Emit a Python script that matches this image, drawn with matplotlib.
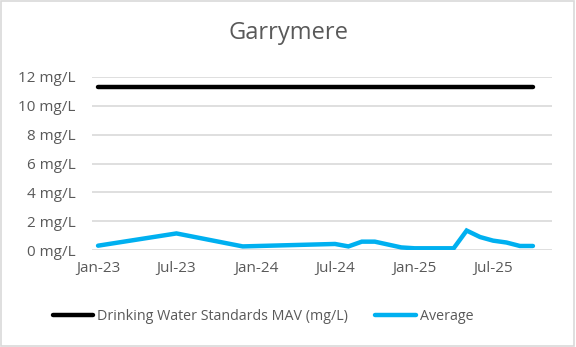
import matplotlib
matplotlib.use("Agg")
import matplotlib.pyplot as plt
import matplotlib.dates as mdates
from matplotlib.patches import Rectangle
import pandas as pd

plt.rcParams['font.family'] = ['Open Sans', 'DejaVu Sans']

# monthly sample averages (mg/L)
dates = ['2023-01-01', '2023-07-01', '2023-12-01', '2024-07-01', '2024-08-01',
         '2024-09-01', '2024-10-01', '2024-12-01', '2025-01-01', '2025-04-01',
         '2025-05-01', '2025-06-01', '2025-07-01', '2025-08-01', '2025-09-01',
         '2025-10-01']
average = [0.30, 1.15, 0.25, 0.42, 0.25, 0.58, 0.58, 0.18, 0.12, 0.12,
           1.35, 0.90, 0.65, 0.52, 0.28, 0.28]
mav = 11.3
mav_label = 'Drinking Water Standards MAV (mg/L)'

dates = pd.to_datetime(dates)
grey = '#595959'

fig = plt.figure(figsize=(5.76, 3.47), dpi=100)
ax = fig.add_axes([0.1597, 0.2795, 0.7986, 0.4986])

ax.plot(dates, [mav] * len(dates), color='black', lw=3.2, solid_capstyle='round',
        label=mav_label)
ax.plot(dates, average, color='#00b0f0', lw=3.2, solid_capstyle='round',
        solid_joinstyle='miter', label='Average')

ax.set_ylim(0, 12)
ax.set_yticks(range(0, 13, 2))
ax.set_yticklabels([f'{v} mg/L' for v in range(0, 13, 2)])
ax.set_xlim(pd.Timestamp('2022-12-18'), pd.Timestamp('2025-11-14'))
ax.xaxis.set_major_locator(mdates.MonthLocator(bymonth=[1, 7]))
ax.xaxis.set_major_formatter(mdates.DateFormatter('%b-%y'))

ax.grid(axis='y', color='#d9d9d9', lw=1.2)
ax.set_axisbelow(True)
for s in ax.spines.values():
    s.set_visible(False)
ax.tick_params(axis='both', length=0, labelsize=11, colors=grey)
ax.tick_params(axis='y', pad=12)
ax.tick_params(axis='x', pad=8)

fig.suptitle('Garrymere', x=0.5, y=0.94, fontsize=17, color=grey)

leg = fig.legend(loc='center', bbox_to_anchor=(0.457, 0.089), ncol=2, frameon=False,
                 fontsize=10.3, handlelength=2.8, handletextpad=0.3, columnspacing=1.9,
                 labelcolor=grey)
for h in leg.legend_handles:
    h.set_solid_capstyle('round')

fig.patches.append(Rectangle((0.002, 0.003), 0.994, 0.993, transform=fig.transFigure,
                             fill=False, edgecolor='#d9d9d9', lw=1.2))

fig.savefig('out.png', dpi=100)
